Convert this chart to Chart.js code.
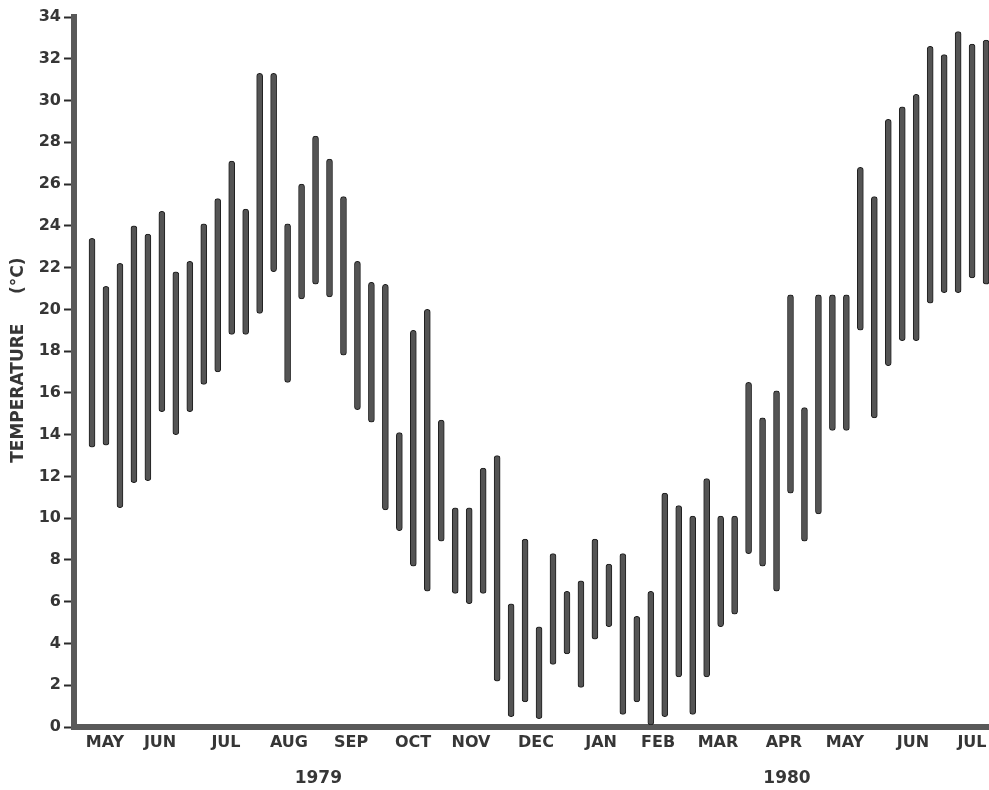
<!DOCTYPE html>
<html>
<head>
<meta charset="utf-8">
<script src="https://cdn.jsdelivr.net/npm/chart.js@4"></script>
<style>
  html, body { margin: 0; padding: 0; background: #fff; }
  #wrap { width: 989px; height: 790px; }
</style>
</head>
<body>
<div id="wrap"><canvas id="temps" width="989" height="790"></canvas></div>
<script>
/* ── Weekly air temperature range, May 1979 – Jul 1980 ── */

// week number of each reading
const weeks = [
   0,  1,  2,  3,  4,  5,  6,  7,  8,  9, 10, 11, 12, 13, 14, 15,
  16, 17, 18, 19, 20, 21, 22, 23, 24, 25, 26, 27, 28, 29, 30, 31,
  32, 33, 34, 35, 36, 37, 38, 39, 40, 41, 42, 43, 44, 45, 46, 47,
  48, 49, 50, 51, 52, 53, 54, 55, 56, 57, 58, 59, 60, 61, 62, 63, 64
];

// weekly minimum (°C)
const lows = [
  13.4, 13.5, 10.5, 11.7, 11.8, 15.1, 14.0, 15.1, 16.4, 17.0, 18.8, 18.8, 19.8, 21.8, 16.5, 20.5,
  21.2, 20.6, 17.8, 15.2, 14.6, 10.4,  9.4,  7.7,  6.5,  8.9,  6.4,  5.9,  6.4,  2.2,  0.5,  1.2,
   0.4,  3.0,  3.5,  1.9,  4.2,  4.8,  0.6,  1.2,  0.1,  0.5,  2.4,  0.6,  2.4,  4.8,  5.4,  8.3,
   7.7,  6.5, 11.2,  8.9, 10.2, 14.2, 14.2, 19.0, 14.8, 17.3, 18.5, 18.5, 20.3, 20.8, 20.8, 21.5, 21.2
];

// weekly maximum (°C)
const highs = [
  23.4, 21.1, 22.2, 24.0, 23.6, 24.7, 21.8, 22.3, 24.1, 25.3, 27.1, 24.8, 31.3, 31.3, 24.1, 26.0,
  28.3, 27.2, 25.4, 22.3, 21.3, 21.2, 14.1, 19.0, 20.0, 14.7, 10.5, 10.5, 12.4, 13.0,  5.9,  9.0,
   4.8,  8.3,  6.5,  7.0,  9.0,  7.8,  8.3,  5.3,  6.5, 11.2, 10.6, 10.1, 11.9, 10.1, 10.1, 16.5,
  14.8, 16.1, 20.7, 15.3, 20.7, 20.7, 20.7, 26.8, 25.4, 29.1, 29.7, 30.3, 32.6, 32.2, 33.3, 32.7, 32.9
];

// month tick labels and where they sit (in weeks)
const monthLabels = ['MAY', 'JUN', 'JUL', 'AUG', 'SEP', 'OCT', 'NOV', 'DEC',
                     'JAN', 'FEB', 'MAR', 'APR', 'MAY', 'JUN', 'JUL'];
const monthPos = [0.93, 4.87, 9.59, 14.10, 18.54, 22.98, 27.13, 31.78,
                  36.44, 40.52, 44.81, 49.53, 53.90, 58.77, 62.99];

const yearLabels = ['1979', '1980'];
const yearPos = [16.2, 49.75];

const yTicks = [0, 2, 4, 6, 8, 10, 12, 14, 16, 18, 20, 22, 24, 26, 28, 30, 32, 34];

const INK = '#363636';
const AXIS = '#595959';
const FONT = "'DejaVu Sans', sans-serif";

// first bar at x=92, ~13.97 px per week, plot spans x=74..989
const X_MIN = -1.29;
const X_MAX = 64.21;

const points = weeks.map((w, i) => ({ x: w, y: [lows[i], highs[i]] }));

new Chart(document.getElementById('temps').getContext('2d'), {
  type: 'bar',
  data: {
    datasets: [{
      data: points,
      backgroundColor: '#545454',
      borderColor: '#1f1f1f',
      borderWidth: 1,
      borderSkipped: false,
      borderRadius: 3,
      barThickness: 6,
    }],
  },
  options: {
    responsive: false,
    animation: false,
    layout: { padding: { top: 17, right: 0, bottom: 0, left: 0 } },
    plugins: {
      legend: { display: false },
      tooltip: { enabled: false },
    },
    scales: {
      x: {
        type: 'linear',
        position: 'bottom',
        min: X_MIN,
        max: X_MAX,
        offset: false,
        grid: { display: false, drawTicks: false },
        border: { display: true, color: AXIS, width: 6 },
        afterBuildTicks: s => { s.ticks = monthPos.map(v => ({ value: v })); },
        afterFit: s => { s.height = 28; s.paddingLeft = 0; s.paddingRight = 0; },
        ticks: {
          autoSkip: false,
          maxRotation: 0,
          padding: 6,
          color: INK,
          font: { family: FONT, size: 16, weight: 'bold' },
          callback: (v, i) => monthLabels[i],
        },
      },
      years: {
        type: 'linear',
        position: 'bottom',
        min: X_MIN,
        max: X_MAX,
        offset: false,
        grid: { display: false, drawTicks: false },
        border: { display: false },
        afterBuildTicks: s => { s.ticks = yearPos.map(v => ({ value: v })); },
        afterFit: s => { s.height = 35; s.paddingLeft = 0; s.paddingRight = 0; },
        ticks: {
          autoSkip: false,
          maxRotation: 0,
          padding: 13,
          color: INK,
          font: { family: FONT, size: 17, weight: 'bold' },
          callback: (v, i) => yearLabels[i],
        },
      },
      y: {
        min: 0,
        max: 34,
        grid: {
          drawOnChartArea: false,
          drawTicks: true,
          tickLength: 10,
          tickWidth: 2,
          tickColor: '#2a2a2a',
        },
        border: { display: true, color: AXIS, width: 6 },
        afterBuildTicks: s => { s.ticks = yTicks.map(v => ({ value: v })); },
        afterFit: s => { s.width = 74; },
        ticks: {
          padding: 3,
          color: INK,
          font: { family: FONT, size: 16, weight: 'bold' },
        },
        title: {
          display: true,
          text: '    TEMPERATURE     (°C)',
          color: INK,
          padding: { top: 8, bottom: 0 },
          font: { family: FONT, size: 17, weight: 'bold' },
        },
      },
    },
  },
});
</script>
</body>
</html>
